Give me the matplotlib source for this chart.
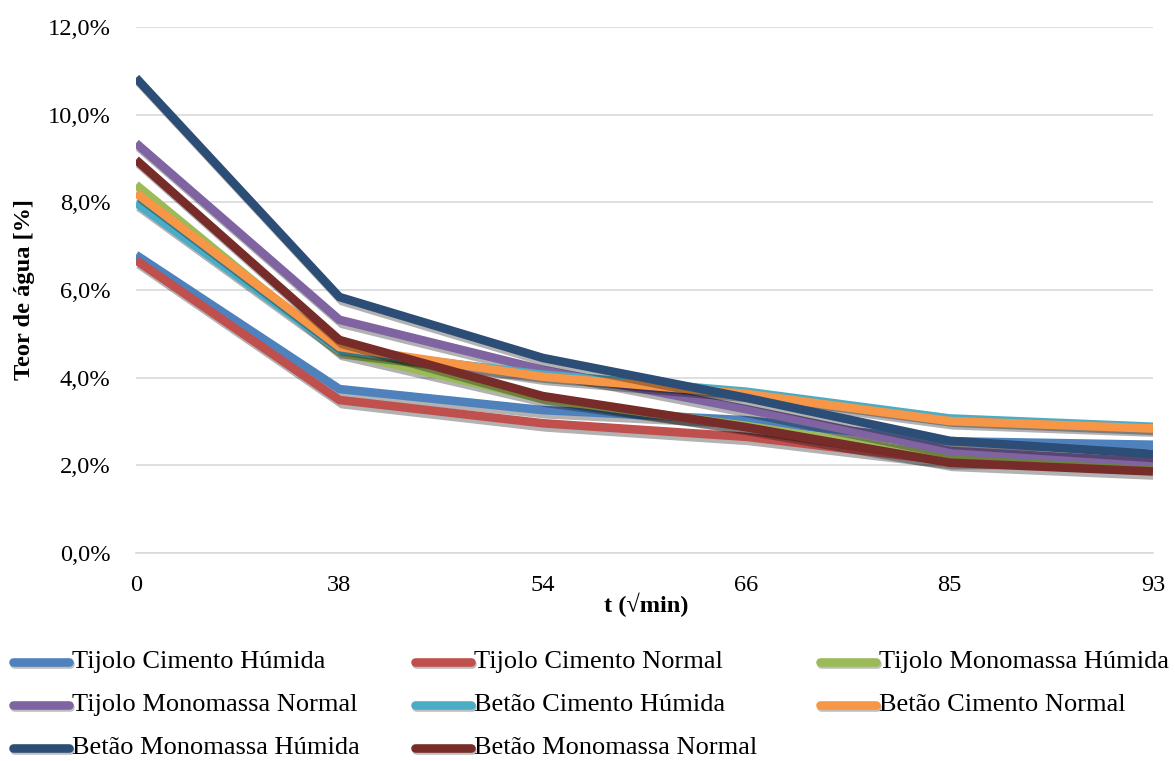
import matplotlib
matplotlib.use("Agg")
import matplotlib.pyplot as plt
import matplotlib.patheffects as pe
from matplotlib.lines import Line2D
from matplotlib.ticker import FuncFormatter, MultipleLocator

plt.rcParams['font.family'] = ['Liberation Serif', 'DejaVu Serif']

# Moisture content (%) over sqrt(time)
t_labels = ["0", "38", "54", "66", "85", "93"]

tijolo_cimento_humida = [6.80, 3.74, 3.26, 3.03, 2.55, 2.47]
tijolo_cimento_normal = [6.68, 3.49, 2.96, 2.65, 2.10, 2.12]
tijolo_monomassa_humida = [8.40, 4.59, 3.52, 2.90, 2.19, 2.00]
tijolo_monomassa_normal = [9.35, 5.32, 4.18, 3.28, 2.33, 2.08]
betao_cimento_humida = [7.99, 4.63, 4.07, 3.68, 3.07, 2.88]
betao_cimento_normal = [8.21, 4.70, 4.02, 3.63, 3.01, 2.84]
betao_monomassa_humida = [10.84, 5.84, 4.45, 3.54, 2.56, 2.26]
betao_monomassa_normal = [8.97, 4.86, 3.58, 2.87, 2.06, 1.86]

series_names = [
    "Tijolo Cimento Húmida", "Tijolo Cimento Normal", "Tijolo Monomassa Húmida",
    "Tijolo Monomassa Normal", "Betão Cimento Húmida", "Betão Cimento Normal",
    "Betão Monomassa Húmida", "Betão Monomassa Normal",
]
series_values = [
    tijolo_cimento_humida, tijolo_cimento_normal, tijolo_monomassa_humida,
    tijolo_monomassa_normal, betao_cimento_humida, betao_cimento_normal,
    betao_monomassa_humida, betao_monomassa_normal,
]
colors = ["#4f81bd", "#c0504d", "#9bbb59", "#8064a2",
          "#4bacc6", "#f79646", "#2c4d75", "#772c2a"]

W, H, DPI = 1175, 761, 100
fig = plt.figure(figsize=(W / DPI, H / DPI), dpi=DPI)
L, R, T, B = 136, 1153, 27, 553
ax = fig.add_axes([L / W, 1 - B / H, (R - L) / W, (B - T) / H])

shadow = [pe.SimpleLineShadow(offset=(2, -3), shadow_color="black", alpha=0.3),
          pe.Normal()]

x = list(range(len(t_labels)))
for name, vals, c in zip(series_names, series_values, colors):
    ax.plot(x, [v / 100 for v in vals], color=c, lw=6.2,
            solid_joinstyle="miter", solid_capstyle="butt",
            path_effects=shadow, zorder=3)

ax.set_xlim(0, len(t_labels) - 1)
ax.set_ylim(0, 0.12)
ax.yaxis.set_major_locator(MultipleLocator(0.02))
ax.yaxis.set_major_formatter(FuncFormatter(lambda v, p: f"{v*100:.1f}%".replace(".", ",")))
ax.set_xticks(x)
ax.set_xticklabels(t_labels)
ax.grid(axis="y", color="#d9d9d9", lw=1.2)
ax.set_axisbelow(True)
for s in ["top", "right", "left"]:
    ax.spines[s].set_visible(False)
ax.spines["bottom"].set_color("#d9d9d9")
ax.spines["bottom"].set_linewidth(1.2)
ax.tick_params(length=0, labelsize=17.6, colors="black")
ax.tick_params(axis="x", pad=16)
ax.tick_params(axis="y", pad=18.5)

fig.text(646 / W, 1 - 605 / H, "t (√min)", ha="center", va="center",
         fontsize=17.6, fontweight="bold")
fig.text(25 / W, 1 - 290 / H, "Teor de água [%]", ha="center", va="center",
         rotation=90, fontsize=17.6, fontweight="bold")

# Legend laid out row by row, three columns
col_x = [13, 415, 820]
row_y = [662, 705, 748]
for i, (name, c) in enumerate(zip(series_names, colors)):
    r, k = divmod(i, 3)
    x0 = col_x[k] / W
    yy = 1 - row_y[r] / H
    ln = Line2D([x0, x0 + 56 / W], [yy, yy], transform=fig.transFigure,
                color=c, lw=6.2, solid_capstyle="round",
                path_effects=[pe.SimpleLineShadow(offset=(1, -1.5), shadow_color="black", alpha=0.25),
                              pe.Normal()])
    fig.add_artist(ln)
    fig.text(x0 + 59 / W, yy, name, ha="left", va="center", fontsize=19)

fig.savefig("out.png", dpi=DPI)
